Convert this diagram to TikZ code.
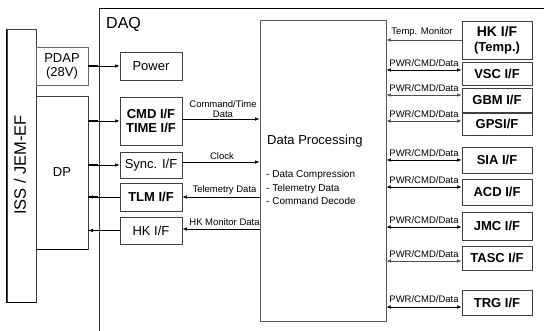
\documentclass[tikz,border=0pt]{standalone}
\usepackage{fontspec}
\setmainfont{Liberation Sans}
\usetikzlibrary{arrows.meta}
\begin{document}
\begin{tikzpicture}[x=1pt,y=-1pt,
  box/.style={draw=black!75, line width=0.8pt, inner sep=0pt, align=center, font=\fontsize{13}{15}\selectfont},
  bbox/.style={box, font=\fontsize{13}{15}\selectfont\bfseries},
  lbl/.style={font=\fontsize{9.5}{10}\selectfont, inner sep=0pt},
  arr/.style={-{Latex[length=4.5pt,width=3.5pt]}, line width=0.6pt},
  dbl/.style={{Latex[length=4.5pt,width=3.5pt]}-{Latex[length=4.5pt,width=3.5pt]}, line width=0.6pt},
  stub/.style={line width=1.6pt},
]
\useasboundingbox (0,0) rectangle (544,330);
\fill[white] (0,0) rectangle (544,330);

% DAQ frame
\coordinate (daqb) at (99,331);
\coordinate (daqc) at (99,8);
\coordinate (daqr) at (545,8);
\draw[line width=0.7pt, black!80] (daqb) -- (daqc);
\draw[line width=1pt] (daqc) -- (daqr);
\node[font=\fontsize{16}{18}\selectfont, anchor=west, inner sep=0pt] (daq) at (106,24) {DAQ};

% outer left
\node[box, minimum width=29pt, minimum height=273pt] (iss) at (21.5,165.5) {};
\draw[line width=1.6pt] (iss.north west) -- (iss.south west) -- (iss.south east);
\node[rotate=90, font=\fontsize{16.5}{18}\selectfont, inner sep=0pt] (isst) at (20,165) {ISS / JEM-EF};

\node[box, draw=black!60, minimum width=52pt, minimum height=38pt] (pdap) at (62,66) {PDAP\\[-1pt](28V)};
\node[box, minimum width=52pt, minimum height=153pt] (dp) at (62,172.5) {DP};
\draw[line width=1.6pt] (dp.south west) -- (dp.south east);

% interface boxes (left)
\node[box, minimum width=62pt, minimum height=28pt] (power) at (151,66) {Power};
\node[bbox, minimum width=62pt, minimum height=48pt] (cmd) at (151,121) {CMD I/F\\[-1pt]TIME I/F};
\node[box, minimum width=62pt, minimum height=26pt] (sync) at (151,165) {Sync. I/F};
\node[bbox, minimum width=62pt, minimum height=28pt] (tlm) at (151,197) {TLM I/F};
\node[box, minimum width=62pt, minimum height=27pt] (hkl) at (151,230.5) {HK I/F};

% data processing
\node[box, draw=black!65, minimum width=126pt, minimum height=301pt] (proc) at (323,170.5) {};
\node[anchor=west, inner sep=0pt, font=\fontsize{13}{15}\selectfont] (ptitle) at (267,141) {Data Processing};
\node[anchor=west, inner sep=0pt, align=left, font=\fontsize{10}{13.5}\selectfont] (pbul) at (266,187.5) {- Data Compression\\- Telemetry Data\\- Command Decode};

% right boxes
\node[bbox, minimum width=70pt, minimum height=38pt] (hkr) at (497,40) {\fontsize{14}{17}\selectfont HK I/F\\(Temp.)};
\node[bbox, minimum width=70pt, minimum height=23pt] (vsc) at (497,73.5) {VSC I/F};
\node[bbox, minimum width=70pt, minimum height=24pt] (gbm) at (497,100) {GBM I/F};
\node[bbox, minimum width=70pt, minimum height=22pt] (gps) at (497,124) {GPSI/F};
\node[bbox, minimum width=70pt, minimum height=26pt] (sia) at (497,160) {SIA I/F};
\node[bbox, minimum width=70pt, minimum height=26pt] (acd) at (497,192) {ACD I/F};
\node[bbox, minimum width=70pt, minimum height=28pt] (jmc) at (497,226) {JMC I/F};
\node[bbox, minimum width=70pt, minimum height=24pt] (tasc) at (497,258) {TASC I/F};
\node[bbox, minimum width=70pt, minimum height=25pt] (trg) at (497,302.5) {TRG I/F};

% left connectors
\draw[stub] (pdap.east) -- ++(10,0);
\draw[arr] (pdap.east) -- (power.west);
\draw[stub] (dp.east |- cmd.west) -- ++(10,0);
\draw[arr] (dp.east |- cmd.west) -- (cmd.west);
\draw[stub] (dp.east |- sync.west) -- ++(10,0);
\draw[arr] (dp.east |- sync.west) -- (sync.west);
\draw[stub] (dp.east |- tlm.west) -- ++(10,0);
\draw[arr] (tlm.west) -- (dp.east |- tlm.west);
\draw[stub] (dp.east |- hkl.west) -- ++(10,0);
\draw[arr] (hkl.west) -- (dp.east |- hkl.west);

% middle connectors
\coordinate (m1) at (0,119);
\coordinate (m2) at (0,162);
\coordinate (m3) at (0,197);
\coordinate (m4) at (0,229);
\draw[arr] (cmd.east |- m1) -- (proc.west |- m1);
\draw[arr] (sync.east |- m2) -- (proc.west |- m2);
\draw[arr] (proc.west |- m3) -- (tlm.east |- m3);
\draw[arr] (proc.west |- m4) -- (hkl.east |- m4);
\node[lbl, align=center, font=\fontsize{9.5}{10.5}\selectfont] (l1) at (223,109) {Command/Time\\Data};
\node[lbl] (l2) at (222,156) {Clock};
\node[lbl] (l3) at (224.5,190) {Telemetry Data};
\node[lbl] (l4) at (224.5,222) {HK Monitor Data};

% right connectors
\coordinate (r0) at (0,40);
\coordinate (r1) at (0,70);
\coordinate (r2) at (0,95);
\coordinate (r3) at (0,121);
\coordinate (r4) at (0,160);
\coordinate (r5) at (0,187);
\coordinate (r6) at (0,227);
\coordinate (r7) at (0,261);
\coordinate (r8) at (0,307);
\draw[arr, black!70] (hkr.west |- r0) -- (proc.east |- r0);
\node[lbl] (t0) at (422,32) {Temp. Monitor};
\draw[dbl] (proc.east |- r1) -- (vsc.west |- r1);
\draw[dbl, black!70] (proc.east |- r2) -- (gbm.west |- r2);
\draw[dbl, black!70] (proc.east |- r3) -- (gps.west |- r3);
\draw[dbl] (proc.east |- r4) -- (sia.west |- r4);
\draw[dbl] (proc.east |- r5) -- (acd.west |- r5);
\draw[dbl] (proc.east |- r6) -- (jmc.west |- r6);
\draw[dbl, black!70] (proc.east |- r7) -- (tasc.west |- r7);
\draw[dbl] (proc.east |- r8) -- (trg.west |- r8);
\node[lbl] (t1) at (424,63) {PWR/CMD/Data};
\node[lbl] (t2) at (424,88) {PWR/CMD/Data};
\node[lbl] (t3) at (424,114) {PWR/CMD/Data};
\node[lbl] (t4) at (424,153) {PWR/CMD/Data};
\node[lbl] (t5) at (424,180) {PWR/CMD/Data};
\node[lbl] (t6) at (424,220) {PWR/CMD/Data};
\node[lbl] (t7) at (424,254) {PWR/CMD/Data};
\node[lbl] (t8) at (424,299) {PWR/CMD/Data};
\end{tikzpicture}
\end{document}
